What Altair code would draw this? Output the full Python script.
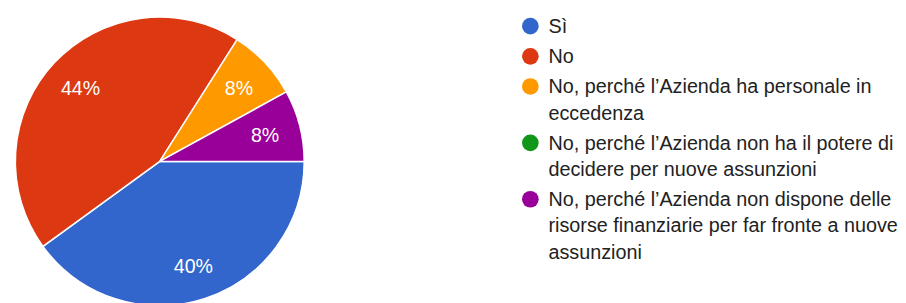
import math
import altair as alt
import pandas as pd

categories = [
    "Sì",
    "No",
    "No, perché l’Azienda ha personale in eccedenza",
    "No, perché l’Azienda non ha il potere di decidere per nuove assunzioni",
    "No, perché l’Azienda non dispone delle risorse finanziarie per far fronte a nuove assunzioni",
]
percent = [40, 44, 8, 0, 8]
colors = ["#3366cc", "#dc3912", "#ff9900", "#109618", "#990099"]
legend_lines = [
    ["Sì"],
    ["No"],
    ["No, perché l’Azienda ha personale in", "eccedenza"],
    ["No, perché l’Azienda non ha il potere di", "decidere per nuove assunzioni"],
    ["No, perché l’Azienda non dispone delle", "risorse finanziarie per far fronte a nuove", "assunzioni"],
]

FONT = "Liberation Sans"
FS = 20.2

pie_df = pd.DataFrame({
    "categoria": categories,
    "percentuale": percent,
    "ordine": list(range(len(categories))),
})
pie_df["etichetta"] = pie_df["percentuale"].astype(str) + "%"

start = math.pi / 2
theta = alt.Theta("percentuale:Q", stack=True,
                  scale=alt.Scale(range=[start, start + 2 * math.pi]))
color = alt.Color("categoria:N", scale=alt.Scale(domain=categories, range=colors), legend=None)
order = alt.Order("ordine:Q")

CY = 153.5
arcs = alt.Chart(pie_df).mark_arc(outerRadius=147.5, stroke="white", strokeWidth=1.5).encode(
    theta=theta, color=color, order=order, y=alt.value(CY)
)
labels = alt.Chart(pie_df).transform_filter("datum.percentuale > 0").mark_text(
    radius=111, fontSize=20, font=FONT, fill="white", align="center", baseline="middle", dy=2
).encode(
    theta=theta, order=order, detail="categoria:N", text="etichetta:N", y=alt.value(CY)
)
pie = alt.layer(arcs, labels).properties(width=310, height=286)

# legend built from the category list
line_rows = []
item_rows = []
extra = 0
for i, lines in enumerate(legend_lines):
    first = 15.3 + i * 30.8 + extra * 26.8
    item_rows.append({"categoria": categories[i], "pos": first})
    for j, line in enumerate(lines):
        line_rows.append({"testo": line, "pos": first + j * 26.8})
    extra += len(lines) - 1

sym = alt.Chart(pd.DataFrame(item_rows)).mark_circle(size=290, opacity=1).encode(
    x=alt.value(22.5), y=alt.Y("pos:Q", scale=None, axis=None), color=color
)
txt = alt.Chart(pd.DataFrame(line_rows)).mark_text(
    align="left", baseline="middle", fontSize=FS, font=FONT, color="#222222", dy=1
).encode(
    x=alt.value(41), y=alt.Y("pos:Q", scale=None, axis=None), text="testo:N"
)
legend = alt.layer(sym, txt).properties(width=360, height=286)

chart = alt.hconcat(pie, legend, spacing=201).properties(padding=0).configure_view(stroke=None)

chart.save("out.html", embed_options={"renderer": "svg", "actions": False})
